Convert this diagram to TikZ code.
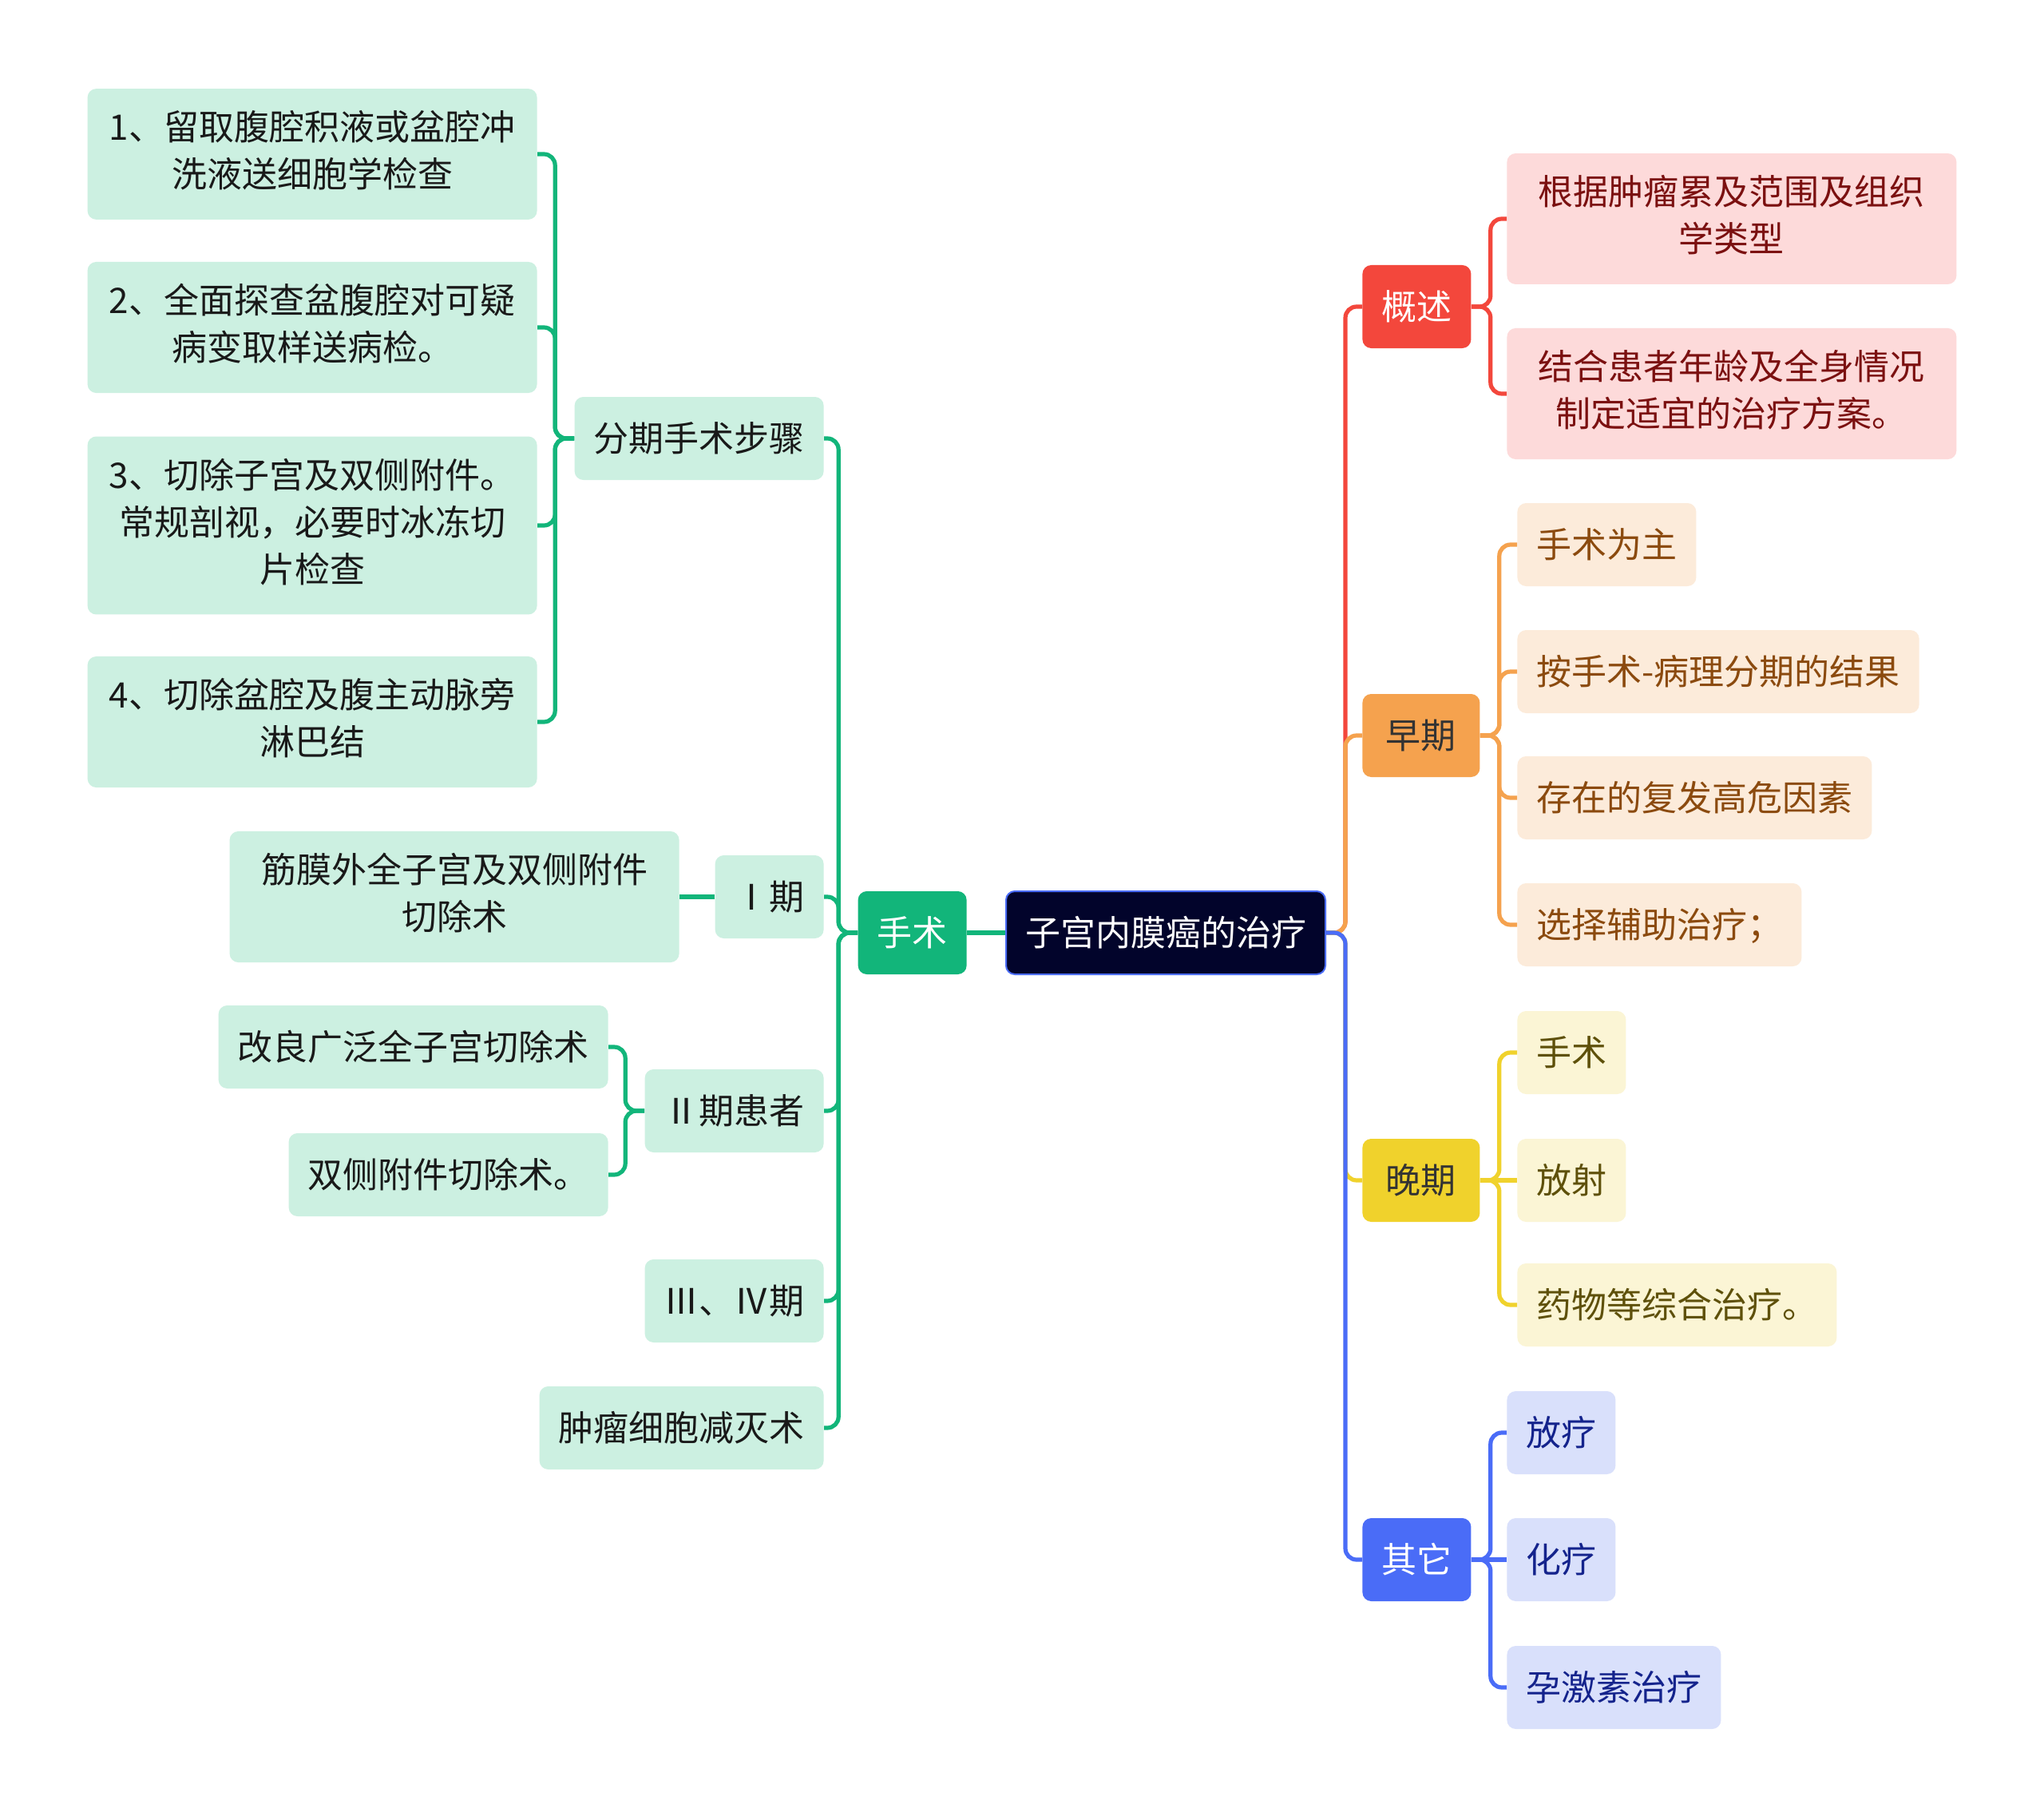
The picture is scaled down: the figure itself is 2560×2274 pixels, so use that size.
\documentclass[tikz,border=0pt]{standalone}
\usepackage{fontspec}
\setmainfont{Noto Sans CJK SC}
\usepackage{xcolor}
\usepackage{tikz}
\usetikzlibrary{positioning}
\definecolor{rootfill}{HTML}{02042B}
\definecolor{rootedge}{HTML}{4A6CF7}
\definecolor{surg}{HTML}{12B57A}
\definecolor{surgleaf}{HTML}{CCF0E1}
\definecolor{summ}{HTML}{F3473C}
\definecolor{summleaf}{HTML}{FDDADA}
\definecolor{summtext}{HTML}{7B1010}
\definecolor{early}{HTML}{F5A24E}
\definecolor{earlyleaf}{HTML}{FCEBDA}
\definecolor{earlytext}{HTML}{8B4A0E}
\definecolor{late}{HTML}{F0D22C}
\definecolor{lateleaf}{HTML}{FBF5D5}
\definecolor{latetext}{HTML}{5E500A}
\definecolor{other}{HTML}{4A6CF7}
\definecolor{otherleaf}{HTML}{D9E0FB}
\definecolor{othertext}{HTML}{14238C}
\newcommand{\cjkstrut}{\rule[-6.35pt]{0pt}{29.5pt}}
\tikzset{
    topic/.style={rectangle, rounded corners=5.5pt, inner xsep=12pt, inner ysep=11.25pt, align=center, font=\fontsize{22pt}{29.5pt}\selectfont, execute at begin node=\cjkstrut, execute at end node=\cjkstrut},
    wide/.style={minimum width=281.5pt, inner ysep=13.75pt},
    rootbox/.style={topic, fill=rootfill, draw=rootedge, line width=1pt, text=white},
    surgbox/.style={topic, fill=surg, text=white},
    surgleafbox/.style={topic, fill=surgleaf, text=black!90},
    summbox/.style={topic, fill=summ, text=white},
    summleafbox/.style={topic, fill=summleaf, text=summtext},
    earlybox/.style={topic, fill=early, text=black!80, minimum width=73.5pt},
    earlyleafbox/.style={topic, fill=earlyleaf, text=earlytext},
    latebox/.style={topic, fill=late, text=black!80, minimum width=73.5pt},
    lateleafbox/.style={topic, fill=lateleaf, text=latetext},
    otherbox/.style={topic, fill=other, text=white},
    otherleafbox/.style={topic, fill=otherleaf, text=othertext},
    link/.style={line width=2.6pt, rounded corners=7pt}
}

\begin{document}
\begin{tikzpicture}[x=0.5pt, y=-0.5pt]
    \fill[white] (0,0) rectangle (2560,2274);
    \useasboundingbox (0,0) rectangle (2560,2274);

    \node[rootbox] (root) at (1460,1168) {子宫内膜癌的治疗};

    % left: 手术
    \node[surgbox, left=24pt of root] (ss) {手术};
    \node[surgleafbox, anchor=east] (fq) at (1032,549) {分期手术步骤};
    \node[surgleafbox, anchor=east] (q1) at (1032,1123) {Ⅰ期};
    \node[surgleafbox, anchor=east] (q2) at (1032,1391) {Ⅱ期患者};
    \node[surgleafbox, anchor=east] (q34) at (1032,1629) {Ⅲ、Ⅳ期};
    \node[surgleafbox, anchor=east] (jm) at (1032,1788) {肿瘤细胞减灭术};
    \node[surgleafbox, wide, anchor=east] (b1) at (673,193) {1、留取腹腔积液或盆腔冲\\洗液送细胞学检查};
    \node[surgleafbox, wide, anchor=east] (b2) at (673,410) {2、全面探查盆腹腔对可疑\\病变取样送病检。};
    \node[surgleafbox, wide, anchor=east] (b3) at (673,658) {3、切除子宫及双侧附件。\\常规剖视，必要时冰冻切\\片检查};
    \node[surgleafbox, wide, anchor=east] (b4) at (673,904) {4、切除盆腔及腹主动脉旁\\淋巴结};
    \node[surgleafbox, wide, anchor=east] (jw) at (851,1123) {筋膜外全子宫及双侧附件\\切除术};
    \node[surgleafbox, anchor=east] (gl) at (762,1311) {改良广泛全子宫切除术};
    \node[surgleafbox, anchor=east] (sc) at (762,1471) {双侧附件切除术。};

    % right
    \node[summbox, anchor=west] (gs) at (1706,384) {概述};
    \node[earlybox, anchor=west] (zq) at (1706,921) {早期};
    \node[latebox, anchor=west] (wq) at (1706,1478) {晚期};
    \node[otherbox, anchor=west] (qt) at (1706,1953) {其它};
    \node[summleafbox, wide, anchor=west] (gs1) at (1887,274) {根据肿瘤累及范围及组织\\学类型};
    \node[summleafbox, wide, anchor=west] (gs2) at (1887,493) {结合患者年龄及全身情况\\制定适宜的治疗方案。};
    \node[earlyleafbox, anchor=west] (zq1) at (1900,682) {手术为主};
    \node[earlyleafbox, anchor=west] (zq2) at (1900,841) {按手术-病理分期的结果};
    \node[earlyleafbox, anchor=west] (zq3) at (1900,999) {存在的复发高危因素};
    \node[earlyleafbox, anchor=west] (zq4) at (1900,1158) {选择辅助治疗；};
    \node[lateleafbox, anchor=west] (wq1) at (1900,1318) {手术};
    \node[lateleafbox, anchor=west] (wq2) at (1900,1478) {放射};
    \node[lateleafbox, anchor=west] (wq3) at (1900,1634) {药物等综合治疗。};
    \node[otherleafbox, anchor=west] (qt1) at (1887,1794) {放疗};
    \node[otherleafbox, anchor=west] (qt2) at (1887,1953) {化疗};
    \node[otherleafbox, anchor=west] (qt3) at (1887,2113) {孕激素治疗};

    \draw[link, surg] (root.west) -- (ss.east);
    \foreach \n in {fq,q1,q2,q34,jm}
        \draw[link, surg] (ss.west) -- ++(-12pt,0) |- (\n.east);
    \foreach \n in {b1,b2,b3,b4}
        \draw[link, surg] (fq.west) -- ++(-12pt,0) |- (\n.east);
    \draw[link, surg] (q1.west) -- (jw.east);
    \foreach \n in {gl,sc}
        \draw[link, surg] (q2.west) -- ++(-12pt,0) |- (\n.east);

    \draw[link, summ] (root.east) -- ++(12pt,0) |- (gs.west);
    \draw[link, early] (root.east) -- ++(12pt,0) |- (zq.west);
    \draw[link, late] (root.east) -- ++(12pt,0) |- (wq.west);
    \draw[link, other] (root.east) -- ++(12pt,0) |- (qt.west);
    \foreach \n in {gs1,gs2}
        \draw[link, summ] (gs.east) -- ++(12pt,0) |- (\n.west);
    \foreach \n in {zq1,zq2,zq3,zq4}
        \draw[link, early] (zq.east) -- ++(12pt,0) |- (\n.west);
    \foreach \n in {wq1,wq3}
        \draw[link, late] (wq.east) -- ++(12pt,0) |- (\n.west);
    \draw[link, late] (wq.east) -- (wq2.west);
    \foreach \n in {qt1,qt3}
        \draw[link, other] (qt.east) -- ++(12pt,0) |- (\n.west);
    \draw[link, other] (qt.east) -- (qt2.west);
\end{tikzpicture}
\end{document}
